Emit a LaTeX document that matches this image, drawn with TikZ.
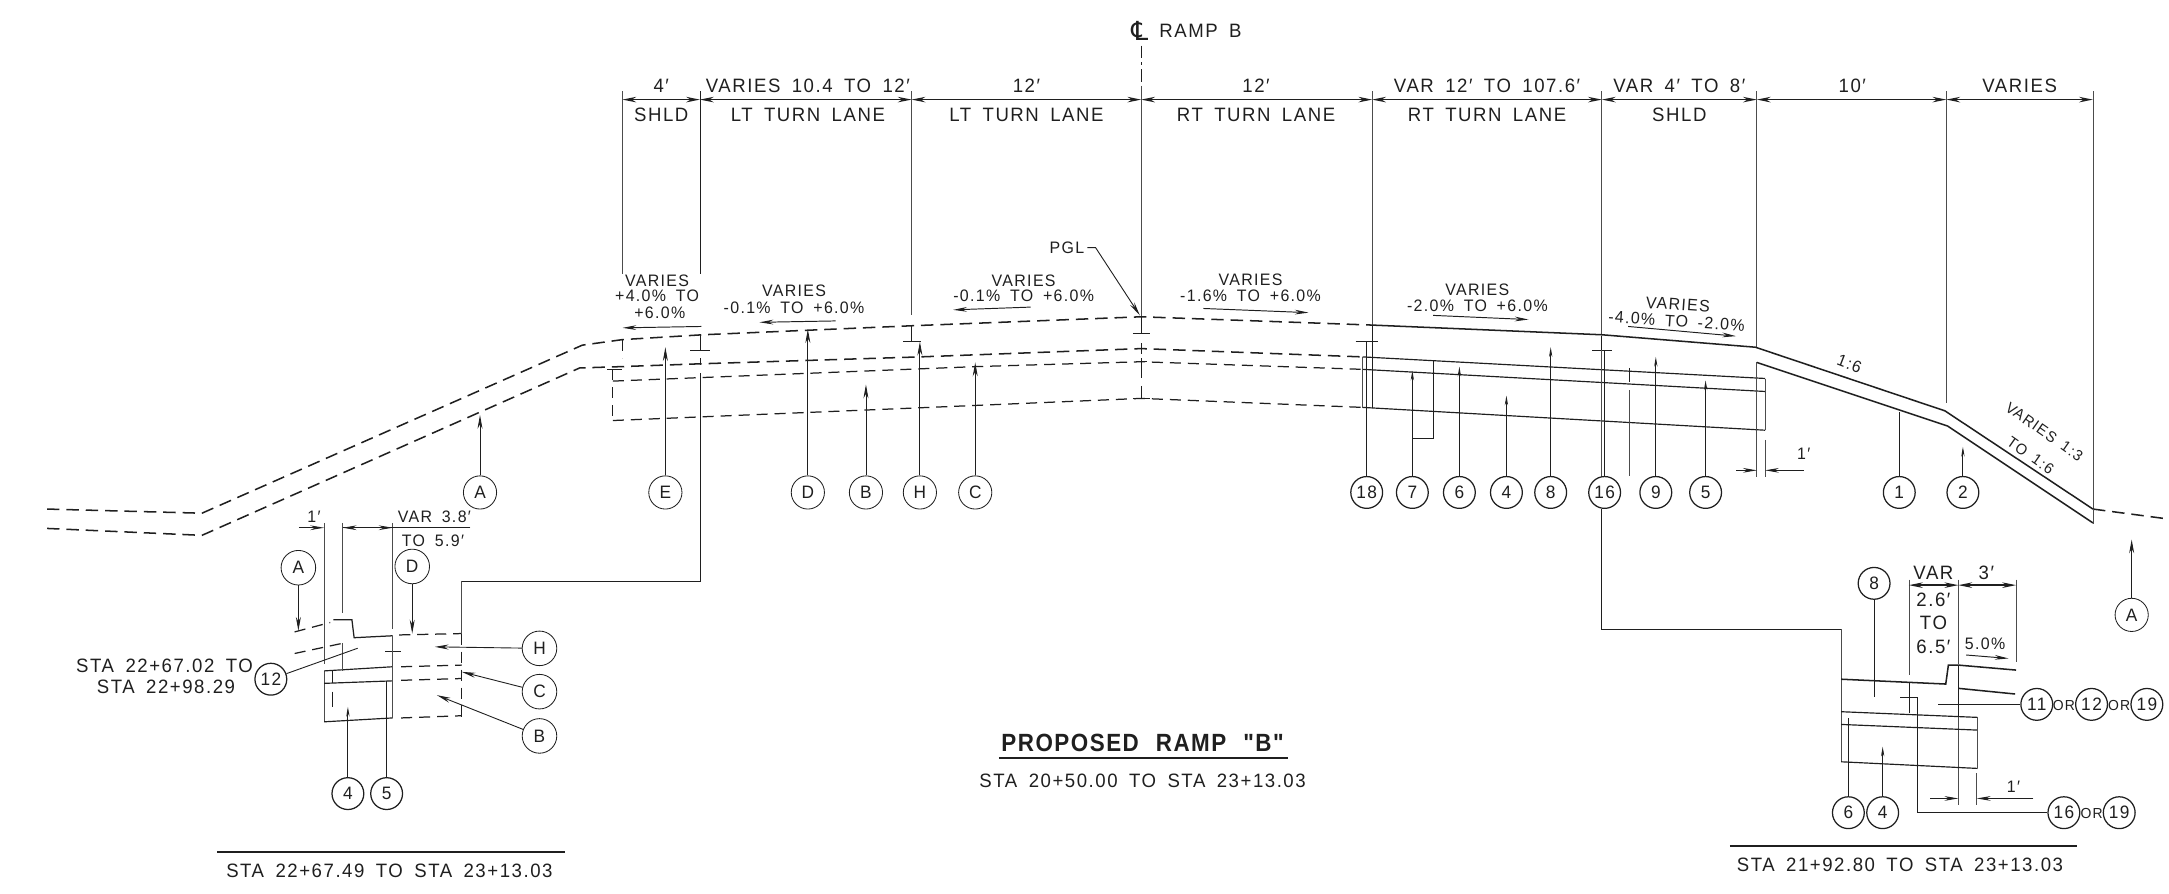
\documentclass[tikz,border=0pt]{standalone}
\usepackage{fontspec}
\usetikzlibrary{arrows.meta}
\setmainfont[FakeStretch=0.96,LetterSpace=8,WordSpace=1.7]{Liberation Sans}
\newfontfamily\cjfont{DejaVu Sans}
\newfontfamily\titlefont[FakeStretch=0.9,LetterSpace=6,WordSpace=2.2]{Liberation Sans}
\definecolor{ink}{gray}{0.12}
\definecolor{thincol}{gray}{0.3}
\tikzset{
 txt/.style={inner sep=0pt,text=ink,font=\fontsize{14}{14}\selectfont,text height=10pt,text depth=0pt},
 smalltxt/.style={txt,font=\fontsize{12}{12}\selectfont,text height=8.6pt},
 balloon/.style={circle,draw=ink,line width=0.9pt,minimum size=23pt,inner sep=0pt,fill=white,font=\fontsize{13}{13}\selectfont,text=ink},
 lballoon/.style={balloon,line width=0.6pt,minimum size=24pt},
 dimln/.style={line width=1pt,draw=ink,{Stealth[length=10pt,width=4pt]}-{Stealth[length=10pt,width=4pt]}},
 extln/.style={line width=0.55pt,draw=thincol},
 leader/.style={line width=0.65pt,draw=ink,-{Stealth[length=10pt,width=3.6pt]}},
 thinlead/.style={line width=0.65pt,draw=ink,-{Stealth[length=7pt,width=2.4pt]}},
 plain/.style={line width=0.65pt,draw=ink},
 road/.style={line width=1.1pt,draw=ink},
 rdash/.style={road,dash pattern=on 9pt off 5pt},
 sdash/.style={line width=0.9pt,draw=ink,dash pattern=on 8pt off 5pt},
 slope/.style={line width=0.7pt,draw=ink,-{Stealth[length=10pt,width=3.4pt]}},
}
\begin{document}
\begin{tikzpicture}[x=1pt,y=-1pt]
\useasboundingbox (0,0) rectangle (1568,645.8);
% ---------- centre line
\node[txt,font=\cjfont\fontsize{19}{19}\selectfont,text height=13pt] (cls) at (824,23) {℄};
\node[txt,anchor=west] (clt) at (838,22) {RAMP B};
\coordinate (clA) at (825,33); \coordinate (clB) at (825,62); \coordinate (clC) at (825,229);
\draw[plain,dash pattern=on 9pt off 3pt on 2pt off 3pt] (clA) -- (clB);
\draw[extln] (clB) -- (clC);
% ---------- dimension row
\foreach \n/\x in {1/450,2/506,3/659,4/825,5/992,6/1158,7/1270,8/1407,9/1513}{\coordinate (d\n) at (\x,72);}
\foreach \a/\b in {1/2,2/3,3/4,4/5,5/6,6/7,7/8,8/9}{\draw[dimln] (d\a) -- (d\b);}
\node[txt] (t1) at (478,62) {4′};
\node[txt] (t2) at (584,62) {VARIES 10.4 TO 12′};
\node[txt] (t3) at (742,62) {12′};
\node[txt] (t4) at (908,62) {12′};
\node[txt] (t5) at (1075,62) {VAR 12′ TO 107.6′};
\node[txt] (t6) at (1214,62) {VAR 4′ TO 8′};
\node[txt] (t7) at (1339,62) {10′};
\node[txt] (t8) at (1460,62) {VARIES};
\node[txt] (u1) at (478,83) {SHLD};
\node[txt] (u2) at (584,83) {LT TURN LANE};
\node[txt] (u3) at (742,83) {LT TURN LANE};
\node[txt] (u4) at (908,83) {RT TURN LANE};
\node[txt] (u5) at (1075,83) {RT TURN LANE};
\node[txt] (u6) at (1214,83) {SHLD};
% ---------- extension lines
\draw[extln] (450,66) -- (450,198);
\draw[plain] (506,66) -- (506,198);
\draw[extln] (659,66) -- (659,228);
\draw[extln] (992,66) -- (992,235);
\draw[extln] (1158,66) -- (1158,242);
\draw[extln] (1270,66) -- (1270,251);
\draw[extln] (1407,66) -- (1407,291);
\draw[extln] (1513,66) -- (1513,368);
% ---------- slope labels
\node[smalltxt] (s1a) at (475,203) {VARIES};
\node[smalltxt] (s1b) at (475,214) {+4.0\% TO};
\node[smalltxt] (s1c) at (477,226) {+6.0\%};
\draw[slope] (507,236) -- (450,237);
\node[smalltxt] (s2a) at (574,210) {VARIES};
\node[smalltxt] (s2b) at (574,222) {-0.1\% TO +6.0\%};
\draw[slope] (604,232) -- (549,233);
\node[smalltxt] (s3a) at (740,203) {VARIES};
\node[smalltxt] (s3b) at (740,214) {-0.1\% TO +6.0\%};
\draw[slope] (745,222) -- (689,224);
\node[smalltxt] (s4a) at (904,202) {VARIES};
\node[smalltxt] (s4b) at (904,214) {-1.6\% TO +6.0\%};
\draw[slope] (870,223) -- (946,226);
\node[smalltxt] (s5a) at (1068,209) {VARIES};
\node[smalltxt] (s5b) at (1068,221) {-2.0\% TO +6.0\%};
\draw[slope] (1036,228) -- (1105,231);
\node[smalltxt,rotate=-4] (s6a) at (1213,220) {VARIES};
\node[smalltxt,rotate=-4] (s6b) at (1212,232) {-4.0\% TO -2.0\%};
\draw[slope] (1177,236) -- (1255,243);
\node[smalltxt,anchor=east] (pgl) at (784,179) {PGL};
\coordinate (pglA) at (786,179); \coordinate (pglB) at (792,179); \coordinate (pglC) at (824,228);
\draw[leader] (pglA) -- (pglB) -- (pglC);
% ---------- main section: dashed part
\draw[rdash] (34,368) -- (146,371) -- (421,249.5) -- (450,245.5) -- (508,242) -- (659,235.5) -- (825,229) -- (992,235);
\draw[rdash] (34,382) -- (146,387) -- (419,266) -- (450,265) -- (506,263) -- (665,258) -- (825,252) -- (985,258);
\draw[sdash] (450,246) -- (450,259);
\draw[sdash] (443,267) -- (443,304);
\draw[sdash] (443,275.5) -- (706,265) -- (825,261.5) -- (985,267);
\draw[sdash] (443,304) -- (660,295) -- (825,288) -- (985,294.5);
\draw[plain] (439,267) -- (450,267);
% ---------- main section: solid part
\draw[road] (992,235) -- (1158,242) -- (1269,251) -- (1406,297) -- (1513,368);
\draw[road] (1270,262) -- (1408,308) -- (1513,378);
\draw[plain,line width=0.85pt] (985,258) -- (1276,273.6);
\draw[plain,line width=0.85pt] (985,267) -- (1276,283);
\draw[plain,line width=0.85pt] (985,294.5) -- (1276,311);
\draw[extln] (1276,274) -- (1276,311);
\draw[extln] (985,258) -- (985,295);
\draw[plain] (992,235) -- (992,295);
\draw[rdash] (1513,368) -- (1566,375);
\draw[extln] (1513,368) -- (1513,379);
\draw[extln] (1270,262) -- (1270,345);
\draw[extln] (1276,318) -- (1276,345);
\node[smalltxt] (one1) at (1304,328) {1′};
\coordinate (oa) at (1255,340); \coordinate (ob) at (1270,340); \coordinate (oc) at (1304,340); \coordinate (od) at (1276,340);
\draw[slope] (oa) -- (ob);
\draw[slope] (oc) -- (od);
% station ticks
\draw[plain] (506,242) -- (506,253) (499,253) -- (513,253);
\draw[plain] (506,259) -- (506,264);
\draw[plain] (506,270) -- (506,420) -- (333,420);
\draw[plain] (659,235) -- (659,247) (653,247) -- (666,247);
\draw[plain] (825,229) -- (825,241) (819,241) -- (831,241);
\draw[plain] (825,248) -- (825,256) (821,252) -- (829,252);
\draw[plain] (825,259) -- (825,273) (821,261) -- (829,261);
\draw[plain] (825,279) -- (825,288) (819,288) -- (831,288);
\draw[plain] (980,247) -- (996,247);
\draw[plain] (1151,253) -- (1165,253);
\draw[plain] (1178,266) -- (1178,276);
\draw[extln] (1178,282) -- (1178,344);
\draw[plain] (1158,243) -- (1158,253);
\draw[extln] (1158,253) -- (1158,345);
% ---------- balloons row
\foreach \n/\l/\x/\yt in {E/E/481/251,D/D/584/238,B/B/626/278,H/H/665/247,C/C/705/262,A/A/347/300}{
  \node[lballoon] (b\n) at (\x,356) {\l};
  \coordinate (tip\n) at (\x,\yt);
  \draw[leader] (b\n) -- (tip\n);
}
\foreach \n/\x/\yt in {18/988/247,16/1160/253,1/1373/298}{
  \node[balloon] (n\n) at (\x,356) {\n};
  \coordinate (tipn\n) at (\x,\yt);
  \draw[plain] (n\n) -- (tipn\n);
}
\foreach \n/\x/\yt in {6/1055/265,4/1089/286,8/1121/251,9/1197/258,5/1233/275,2/1419/323}{
  \node[balloon] (n\n) at (\x,356) {\n};
  \coordinate (tipn\n) at (\x,\yt);
  \draw[thinlead] (n\n) -- (tipn\n);
}
\node[balloon] (n7) at (1021,356) {7};
\coordinate (s7a) at (1021,268); \coordinate (s7b) at (1021,317); \coordinate (s7c) at (1036,317); \coordinate (s7d) at (1036,260);
\draw[thinlead] (n7) -- (s7a);
\draw[plain] (s7b) -- (s7c) -- (s7d);
% slope side labels
\node[smalltxt,rotate=-21] (ss1) at (1337,263) {1:6};
\node[smalltxt,rotate=-35,font=\fontsize{11}{11}\selectfont,text height=8pt] (ss2) at (1478,312) {VARIES 1:3};
\node[smalltxt,rotate=-35,font=\fontsize{11}{11}\selectfont,text height=8pt] (ss3) at (1468,329) {TO 1:6};
% A at far right
\node[lballoon] (ar) at (1541,444.5) {A};
\coordinate (arT) at (1541,390);
\draw[leader] (ar) -- (arT);
% ---------- left detail
\draw[extln] (234.3,378) -- (234.3,479.7);
\draw[extln] (247.8,378) -- (247.8,443);
\draw[extln] (283.8,378) -- (283.8,455);
\draw[slope] (216,381.5) -- (234.3,381.5);
\coordinate (vA) at (340,381.5); \coordinate (vB) at (247.8,381.5); \coordinate (vC) at (283.8,381.5);
\draw[plain,line width=0.8pt] (vA) -- (vB);
\draw[slope] (262,381.5) -- (vB);
\draw[slope] (266,381.5) -- (vC);
\node[smalltxt] (lt1) at (227,373.5) {1′};
\node[smalltxt] (lt2) at (314,373.5) {VAR 3.8′};
\node[smalltxt] (lt3) at (313,390.5) {TO 5.9′};
\node[lballoon,minimum size=25pt] (la) at (215.7,410.4) {A};
\coordinate (laT) at (215.7,456);
\draw[leader] (la) -- (laT);
\node[lballoon,minimum size=25pt] (ld) at (298,409.5) {D};
\coordinate (ldT) at (298,458);
\draw[leader] (ld) -- (ldT);
\draw[sdash] (213,456.8) -- (238.7,450);
\draw[plain,line width=0.9pt] (241,448) -- (254.4,448) -- (256,461) -- (283.8,459.6);
\draw[sdash] (288.6,459) -- (333.8,458);
\draw[sdash] (213,472.4) -- (247.8,465);
\draw[plain] (278.6,471) -- (290,471);
\draw[extln] (333.4,420) -- (333.4,465);
\draw[sdash] (333.8,458) -- (333.8,518);
\draw[extln] (234.3,485) -- (234.3,522);
\draw[plain,line width=0.85pt] (234.3,485) -- (283.8,482);
\draw[plain,line width=0.85pt] (234.3,494) -- (283.8,492.2);
\draw[plain,line width=0.85pt] (234.3,521.8) -- (283.8,519);
\draw[extln] (283.8,459.6) -- (283.8,519);
\draw[extln] (247.8,465) -- (247.8,485);
\draw[plain] (240,485) -- (240,494) (240,500) -- (240,511);
\draw[sdash] (290,482) -- (333.8,480.8);
\draw[sdash] (290,491.8) -- (333.8,490.5);
\draw[sdash] (290,519) -- (333.8,517.4);
\node[balloon] (l4) at (251.5,573.7) {4};
\coordinate (l4T) at (251.5,511);
\draw[thinlead] (l4) -- (l4T);
\node[balloon] (l5) at (279.5,573.7) {5};
\coordinate (l5T) at (279.5,492);
\draw[plain] (l5) -- (l5T);
\node[balloon] (l12) at (195.8,491) {12};
\coordinate (l12T) at (258.6,468.6);
\draw[plain] (l12) -- (l12T);
\node[txt,anchor=east] (la1) at (183,481) {STA 22+67.02 TO};
\node[txt] (la2) at (120,496) {STA 22+98.29};
\node[lballoon,minimum size=25pt] (lh) at (390,468.7) {H};
\coordinate (lhT) at (314.3,467.6);
\draw[leader] (lh) -- (lhT);
\node[lballoon,minimum size=25pt] (lc) at (390,500) {C};
\coordinate (lcT) at (333.8,485.7);
\draw[leader] (lc) -- (lcT);
\node[lballoon,minimum size=25pt] (lb) at (390,532) {B};
\coordinate (lbT) at (315.8,502.5);
\draw[leader] (lb) -- (lbT);
\draw[plain,line width=1pt] (157,615.8) -- (408.6,615.8);
\node[txt] (lcap) at (281.5,629) {STA 22+67.49 TO STA 23+13.03};
% ---------- title
\node[txt,font=\titlefont\bfseries\fontsize{18}{18}\selectfont,text height=13pt] (title) at (826,537) {PROPOSED RAMP "B"};
\draw[plain,line width=1.5pt] (722,548) -- (931,548);
\node[txt] (sub) at (826,564) {STA 20+50.00 TO STA 23+13.03};
% ---------- right detail
\draw[plain,line width=0.8pt] (1158,368) -- (1158,455) -- (1331,455);
\draw[extln] (1331,455) -- (1331,550.7);
\node[balloon] (r8) at (1354.8,421.7) {8};
\coordinate (r8T) at (1354.8,503.7);
\draw[plain] (r8) -- (r8T);
\draw[extln] (1380,419) -- (1380,488);
\draw[extln] (1415.7,419) -- (1415.7,480);
\draw[extln] (1457.4,419) -- (1457.4,478.4);
\coordinate (rdA) at (1380,423); \coordinate (rdB) at (1415.7,423); \coordinate (rdC) at (1457.4,423);
\draw[dimln] (rdA) -- (rdB);
\draw[dimln] (rdB) -- (rdC);
\node[txt] (rv1) at (1397.7,414) {VAR};
\node[txt] (rv2) at (1397.7,433.3) {2.6′};
\node[txt] (rv3) at (1397.7,450) {TO};
\node[txt] (rv4) at (1397.7,467.5) {6.5′};
\node[txt] (rv5) at (1436,414) {3′};
\node[smalltxt] (rv6) at (1435,465) {5.0\%};
\draw[slope] (1421.3,473.5) -- (1452,476);
\draw[plain,line width=1.1pt] (1331,491) -- (1406.6,494.5) -- (1408.5,480.8) -- (1415.7,480.8) -- (1457.4,484.4);
\draw[plain,line width=1.1pt] (1415.7,497.6) -- (1456.7,501.7);
\draw[plain,line width=1pt] (1415.7,480.8) -- (1415.7,517.4);
\draw[extln] (1415.7,517.4) -- (1415.7,582);
\draw[plain,line width=0.85pt] (1331,514.5) -- (1429.7,518.6);
\draw[plain,line width=0.85pt] (1331,523.7) -- (1429.7,527.8);
\draw[plain,line width=0.85pt] (1331,550.7) -- (1429.7,555.5);
\draw[extln] (1429.7,518.6) -- (1429.7,555.5);
\draw[plain] (1380,492.8) -- (1380,515.7);
\draw[plain] (1373.6,504.4) -- (1386.8,504.4);
\node[balloon] (r6) at (1336.2,587.5) {6};
\coordinate (r6T) at (1336.2,519.4);
\draw[plain] (r6) -- (r6T);
\node[balloon] (r4) at (1361,587.5) {4};
\coordinate (r4T) at (1361,539.8);
\draw[thinlead] (r4) -- (r4T);
\node[balloon] (r16) at (1492,587.5) {16};
\node[smalltxt,font=\fontsize{10.5}{10.5}\selectfont] (ror3) at (1512,587.5) {OR};
\node[balloon] (r19b) at (1532,587.5) {19};
\coordinate (rkA) at (1386.3,504.4); \coordinate (rkB) at (1386.3,587.5);
\draw[plain,line width=0.8pt] (rkA) -- (rkB) -- (r16);
\node[balloon] (r11) at (1472.4,509.2) {11};
\node[smalltxt,font=\fontsize{10.5}{10.5}\selectfont] (ror1) at (1492,509.2) {OR};
\node[balloon] (r12) at (1512,509.2) {12};
\node[smalltxt,font=\fontsize{10.5}{10.5}\selectfont] (ror2) at (1532,509.2) {OR};
\node[balloon] (r19) at (1552,509.2) {19};
\coordinate (r11T) at (1401.3,509.2);
\draw[plain] (r11) -- (r11T);
\draw[extln] (1429,559) -- (1429,582);
\draw[slope] (1395.3,577.2) -- (1415.7,577.2);
\draw[slope] (1470,577.2) -- (1429,577.2);
\node[smalltxt] (ro1) at (1455.5,568.3) {1′};
\draw[plain,line width=1pt] (1250.6,611.6) -- (1501.3,611.6);
\node[txt] (rcap) at (1373.5,624.7) {STA 21+92.80 TO STA 23+13.03};
\end{tikzpicture}
\end{document}
